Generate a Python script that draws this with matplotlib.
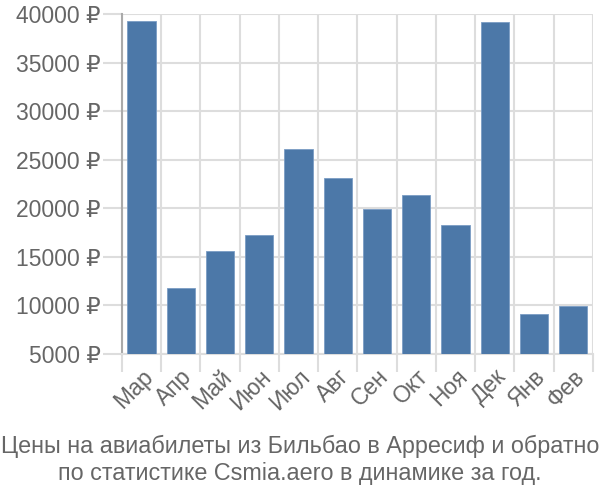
import matplotlib.pyplot as plt
import numpy as np

plt.rcParams['font.family'] = ['Liberation Sans', 'DejaVu Sans']

months = ['Мар', 'Апр', 'Май', 'Июн', 'Июл', 'Авг', 'Сен', 'Окт', 'Ноя', 'Дек', 'Янв', 'Фев']
prices = [39300, 11800, 15600, 17200, 26100, 23100, 19900, 21400, 18300, 39200, 9100, 9900]
yticks = [5000, 10000, 15000, 20000, 25000, 30000, 35000, 40000]
title = 'Цены на авиабилеты из Бильбао в Арресиф и обратно\nпо статистике Csmia.aero в динамике за год.'

text_color = '#666666'
grid_color = '#dddddd'

fig = plt.figure(figsize=(6, 5), dpi=100)
ax = fig.add_axes([0.203, 0.292, 0.785, 0.680])

x = np.arange(len(months))
ax.bar(x, np.array(prices) - 5000, bottom=5000, width=0.72,
       color='#4c78a8', edgecolor='#7a9cc4', linewidth=0.6, zorder=3)

ax.set_xlim(-0.5, len(months) - 0.5)
ax.set_ylim(5000, 40000)

ax.set_yticks(yticks)
ax.set_yticklabels([f'{v} ₽' for v in yticks], fontsize=16.5, color=text_color)
ax.set_xticks(x)
ax.set_xticklabels(months, rotation=45, ha='right', rotation_mode='anchor',
                   fontsize=16.5, color=text_color)
ax.set_xticks(np.arange(-0.5, len(months)), minor=True)

ax.tick_params(axis='x', which='major', length=0, pad=8)
ax.tick_params(axis='x', which='minor', length=13, color=grid_color, width=1.5)
ax.tick_params(axis='y', length=14, color=grid_color, width=1.5, pad=1)

ax.grid(axis='y', which='major', color=grid_color, linewidth=1.5, zorder=0)
ax.grid(axis='x', which='minor', color=grid_color, linewidth=1.5, zorder=0)

for side in ['top', 'right']:
    ax.spines[side].set_visible(False)
ax.spines['left'].set_color('#aaaaaa')
ax.spines['left'].set_linewidth(1.5)
ax.spines['bottom'].set_color(grid_color)
ax.spines['bottom'].set_linewidth(1.5)

fig.text(0.5, 0.08, title, ha='center', va='center', fontsize=16.8,
         color=text_color, linespacing=1.2)

fig.savefig('out.png', dpi=100)
